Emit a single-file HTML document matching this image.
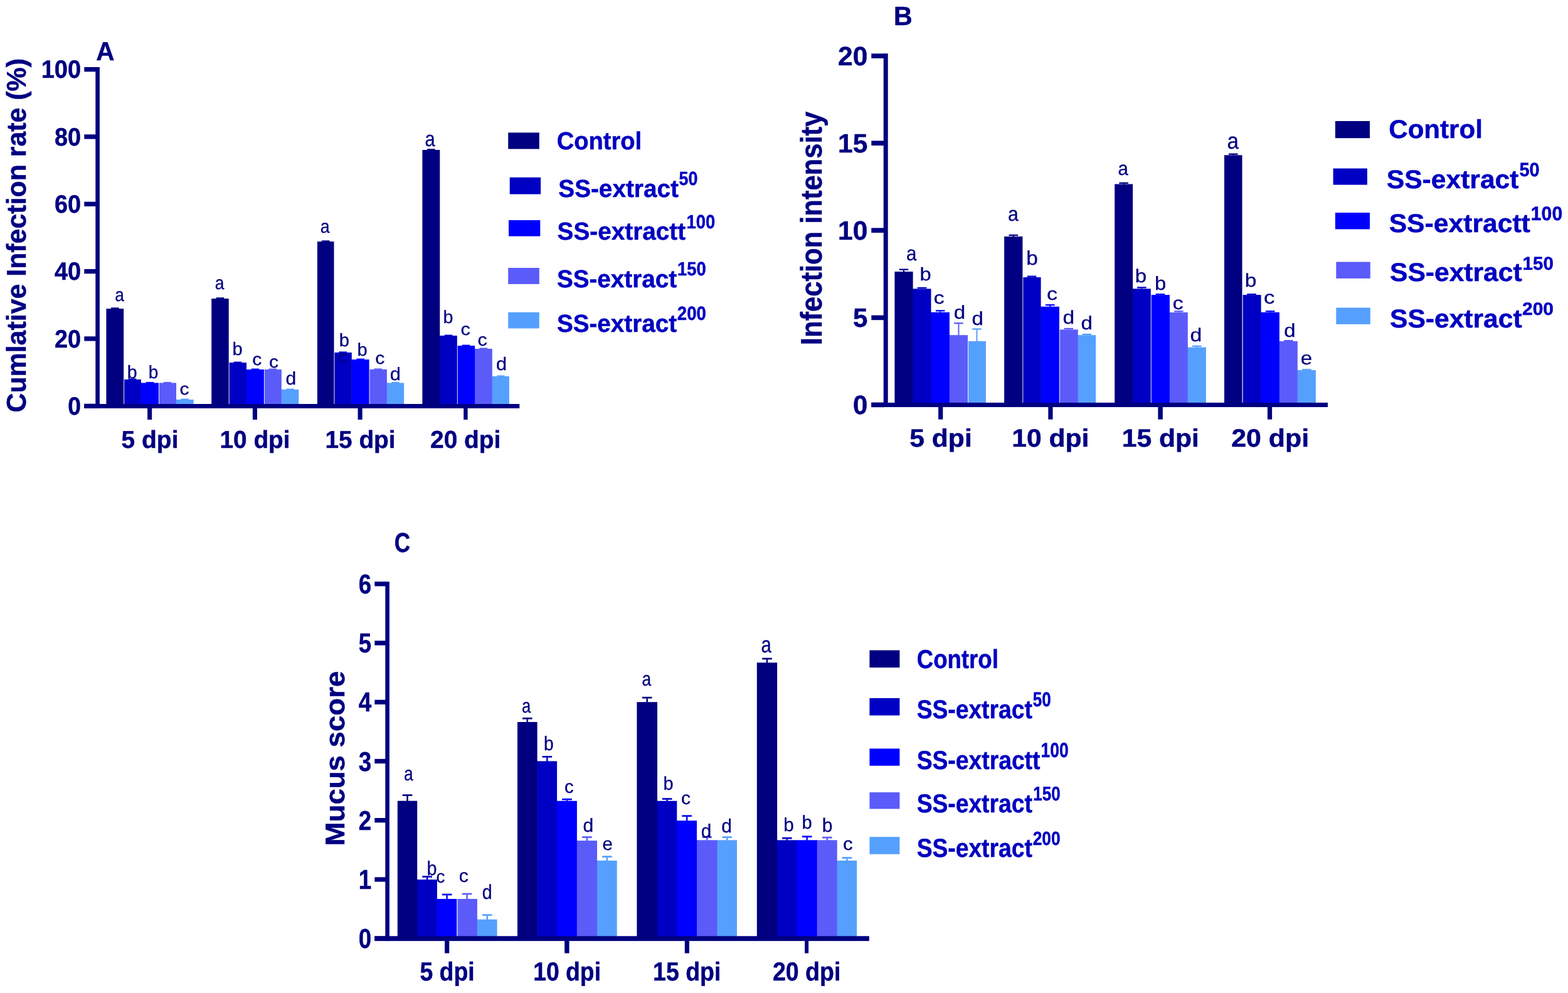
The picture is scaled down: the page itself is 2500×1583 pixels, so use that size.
<!DOCTYPE html>
<html lang="en"><head><meta charset="utf-8"><title>Figure</title>
<style>
html,body{margin:0;padding:0;background:#fff;}
svg{display:block;font-family:"Liberation Sans",Arial,Helvetica,sans-serif;text-rendering:geometricPrecision;}
</style></head>
<body>
<svg width="2500" height="1583" viewBox="0 0 2500 1583">
<rect x="0" y="0" width="2500" height="1583" fill="#fff"/>
<g aria-label="Chart A bars">
<rect x="177" y="490.3" width="12.6" height="2.2" fill="#000080"/>
<rect x="169.4" y="492.1" width="27.8" height="152.9" fill="#000080"/>
<rect x="224.4" y="610.4" width="1.4" height="34.6" fill="#0000C4"/>
<rect x="204.75" y="603.4" width="12.6" height="2.2" fill="#0000C4"/>
<rect x="198.1" y="604.9" width="26.8" height="40.1" fill="#0000C4"/>
<rect x="232.65" y="608.9" width="12.6" height="2.2" fill="#0000FF"/>
<rect x="224.9" y="610.4" width="28.1" height="34.6" fill="#0000FF"/>
<rect x="280.5" y="637" width="1.4" height="8" fill="#5B5BFA"/>
<rect x="260.7" y="608.9" width="12.6" height="2.2" fill="#5B5BFA"/>
<rect x="253.9" y="610.4" width="27.1" height="34.6" fill="#5B5BFA"/>
<rect x="288.5" y="635.5" width="12.6" height="2.2" fill="#55A0FF"/>
<rect x="281" y="637" width="27.6" height="8" fill="#55A0FF"/>
<rect x="344.65" y="474.2" width="12.6" height="2.2" fill="#000080"/>
<rect x="337.2" y="476" width="27.5" height="169" fill="#000080"/>
<rect x="392.5" y="589" width="1.4" height="56" fill="#0000C4"/>
<rect x="372.55" y="576.5" width="12.6" height="2.2" fill="#0000C4"/>
<rect x="365.6" y="578" width="27.4" height="67" fill="#0000C4"/>
<rect x="400.65" y="587.5" width="12.6" height="2.2" fill="#0000FF"/>
<rect x="393" y="589" width="27.9" height="56" fill="#0000FF"/>
<rect x="448.3" y="621" width="1.4" height="24" fill="#5B5BFA"/>
<rect x="428.55" y="587.5" width="12.6" height="2.2" fill="#5B5BFA"/>
<rect x="421.8" y="589" width="27" height="56" fill="#5B5BFA"/>
<rect x="456.25" y="619.5" width="12.6" height="2.2" fill="#55A0FF"/>
<rect x="448.8" y="621" width="27.5" height="24" fill="#55A0FF"/>
<rect x="512.9" y="383.3" width="12.6" height="2.2" fill="#000080"/>
<rect x="505.9" y="385" width="26.6" height="260" fill="#000080"/>
<rect x="560.3" y="573.1" width="1.4" height="71.9" fill="#0000C4"/>
<rect x="540.35" y="560.4" width="12.6" height="2.2" fill="#0000C4"/>
<rect x="533.4" y="561.9" width="27.4" height="83.1" fill="#0000C4"/>
<rect x="568.4" y="571.6" width="12.6" height="2.2" fill="#0000FF"/>
<rect x="560.8" y="573.1" width="27.8" height="71.9" fill="#0000FF"/>
<rect x="616.4" y="610.4" width="1.4" height="34.6" fill="#5B5BFA"/>
<rect x="596.45" y="587.4" width="12.6" height="2.2" fill="#5B5BFA"/>
<rect x="589.5" y="588.9" width="27.4" height="56.1" fill="#5B5BFA"/>
<rect x="624.25" y="608.9" width="12.6" height="2.2" fill="#55A0FF"/>
<rect x="616.9" y="610.4" width="27.3" height="34.6" fill="#55A0FF"/>
<rect x="700.8" y="535.1" width="1.4" height="109.9" fill="#000080"/>
<rect x="681.05" y="237.3" width="12.6" height="2.2" fill="#000080"/>
<rect x="673.4" y="239" width="27.9" height="406" fill="#000080"/>
<rect x="708.75" y="533.6" width="12.6" height="2.2" fill="#0000C4"/>
<rect x="701.3" y="535.1" width="27.5" height="109.9" fill="#0000C4"/>
<rect x="756.6" y="556" width="1.4" height="89" fill="#0000FF"/>
<rect x="736.65" y="549.6" width="12.6" height="2.2" fill="#0000FF"/>
<rect x="729.7" y="551.1" width="27.4" height="93.9" fill="#0000FF"/>
<rect x="784.3" y="599.9" width="1.4" height="45.1" fill="#5B5BFA"/>
<rect x="764.65" y="554.5" width="12.6" height="2.2" fill="#5B5BFA"/>
<rect x="757.1" y="556" width="27.7" height="89" fill="#5B5BFA"/>
<rect x="792.05" y="598.4" width="12.6" height="2.2" fill="#55A0FF"/>
<rect x="784.8" y="599.9" width="27.1" height="45.1" fill="#55A0FF"/>
</g>
<g aria-label="Chart A axes">
<rect x="152.3" y="107" width="6.6" height="543.9" fill="#000080"/>
<rect x="134.3" y="644" width="694" height="6.9" fill="#000080"/>
<rect x="134.3" y="107" width="19" height="7.3" fill="#000080"/>
<rect x="134.3" y="214.3" width="19" height="7.3" fill="#000080"/>
<rect x="134.3" y="321.65" width="19" height="7.3" fill="#000080"/>
<rect x="134.3" y="428.95" width="19" height="7.3" fill="#000080"/>
<rect x="134.3" y="536.3" width="19" height="7.3" fill="#000080"/>
<rect x="134.3" y="643.65" width="19" height="7.3" fill="#000080"/>
<rect x="235.1" y="649.9" width="7.1" height="19.1" fill="#000080"/>
<rect x="402.85" y="649.9" width="7.1" height="19.1" fill="#000080"/>
<rect x="570.55" y="649.9" width="7.1" height="19.1" fill="#000080"/>
<rect x="739.2" y="649.9" width="6.4" height="19.1" fill="#000080"/>
</g>
<g aria-label="Chart A labels">
<text transform="translate(65.68,124.2) scale(0.9486,1)" font-size="40.09" font-weight="bold" fill="#000080" stroke="#000080" stroke-width="0.5">100</text>
<text transform="translate(87.01,231.5) scale(0.9446,1)" font-size="40.09" font-weight="bold" fill="#000080" stroke="#000080" stroke-width="0.5">80</text>
<text transform="translate(87.01,338.85) scale(0.9445,1)" font-size="40.09" font-weight="bold" fill="#000080" stroke="#000080" stroke-width="0.5">60</text>
<text transform="translate(87,446.15) scale(0.9448,1)" font-size="40.09" font-weight="bold" fill="#000080" stroke="#000080" stroke-width="0.5">40</text>
<text transform="translate(87.01,553.5) scale(0.9445,1)" font-size="40.09" font-weight="bold" fill="#000080" stroke="#000080" stroke-width="0.5">20</text>
<text transform="translate(108.36,660.85) scale(0.9303,1)" font-size="40.09" font-weight="bold" fill="#000080" stroke="#000080" stroke-width="0.5">0</text>
<text transform="translate(193.58,713.55) scale(1.0001,1)" font-size="38.96" font-weight="bold" fill="#000080" stroke="#000080" stroke-width="0.5">5 dpi</text>
<text transform="translate(350.53,713.55) scale(0.9949,1)" font-size="38.96" font-weight="bold" fill="#000080" stroke="#000080" stroke-width="0.5">10 dpi</text>
<text transform="translate(518.42,713.55) scale(0.9968,1)" font-size="38.96" font-weight="bold" fill="#000080" stroke="#000080" stroke-width="0.5">15 dpi</text>
<text transform="translate(685.99,713.55) scale(0.9989,1)" font-size="38.96" font-weight="bold" fill="#000080" stroke="#000080" stroke-width="0.5">20 dpi</text>
<text transform="translate(153.34,95.75) scale(0.9689,1)" font-size="41.75" font-weight="bold" fill="#000080" stroke="#000080" stroke-width="0.5">A</text>
<text transform="translate(41.46,657.57) rotate(-90) scale(0.9898,1)" font-size="43.32" font-weight="bold" fill="#000080" stroke="#000080" stroke-width="0.5">Cumlative Infection rate (%)</text>
</g>
<g aria-label="Chart A legend">
<rect x="810.2" y="211.4" width="49.6" height="26.1" fill="#000080"/>
<rect x="812.7" y="282.8" width="49.4" height="26.8" fill="#0000C4"/>
<rect x="811" y="351" width="50.3" height="25.6" fill="#0000FF"/>
<rect x="810.2" y="427" width="49.6" height="25.9" fill="#5B5BFA"/>
<rect x="810.2" y="497.9" width="49.6" height="25.6" fill="#55A0FF"/>
<text transform="translate(887.73,237.75) scale(0.9686,1)" font-size="39.32" font-weight="bold" fill="#0000C0" stroke="#0000C0" stroke-width="0.5">Control</text>
<text transform="translate(890.29,313.75) scale(0.9863,1)" font-size="39.29" font-weight="bold" fill="#0000C0" stroke="#0000C0" stroke-width="0.5">SS-extract</text>
<text transform="translate(1082.48,295.24) scale(0.8747,1)" font-size="30.67" font-weight="bold" fill="#0000C0" stroke="#0000C0" stroke-width="0.5">50</text>
<text transform="translate(888.59,381.75) scale(0.9864,1)" font-size="39.29" font-weight="bold" fill="#0000C0" stroke="#0000C0" stroke-width="0.5">SS-extractt</text>
<text transform="translate(1094.53,363.74) scale(0.8958,1)" font-size="30.67" font-weight="bold" fill="#0000C0" stroke="#0000C0" stroke-width="0.5">100</text>
<text transform="translate(887.89,457.75) scale(0.9843,1)" font-size="39.29" font-weight="bold" fill="#0000C0" stroke="#0000C0" stroke-width="0.5">SS-extract</text>
<text transform="translate(1080.03,439.24) scale(0.8958,1)" font-size="30.67" font-weight="bold" fill="#0000C0" stroke="#0000C0" stroke-width="0.5">150</text>
<text transform="translate(887.89,528.75) scale(0.9843,1)" font-size="39.29" font-weight="bold" fill="#0000C0" stroke="#0000C0" stroke-width="0.5">SS-extract</text>
<text transform="translate(1079.78,510.24) scale(0.9008,1)" font-size="30.67" font-weight="bold" fill="#0000C0" stroke="#0000C0" stroke-width="0.5">200</text>
</g>
<g aria-label="Chart B bars">
<rect x="1455.1" y="460.4" width="1.4" height="182.5" fill="#000080"/>
<rect x="1433.7" y="428.5" width="14.6" height="2.3" fill="#000080"/>
<rect x="1440" y="430.6" width="2" height="2.9" fill="#000080"/>
<rect x="1426.4" y="433" width="29.2" height="209.9" fill="#000080"/>
<rect x="1484" y="497.8" width="1.4" height="145.1" fill="#0000C4"/>
<rect x="1462.75" y="457.8" width="14.6" height="2.3" fill="#0000C4"/>
<rect x="1455.6" y="460.4" width="28.9" height="182.5" fill="#0000C4"/>
<rect x="1513.4" y="534.2" width="1.4" height="108.7" fill="#0000FF"/>
<rect x="1491.9" y="494.2" width="14.6" height="2.3" fill="#0000FF"/>
<rect x="1498.2" y="496.3" width="2" height="2" fill="#0000FF"/>
<rect x="1484.5" y="497.8" width="29.4" height="145.1" fill="#0000FF"/>
<rect x="1521.15" y="514.1" width="14.6" height="2.3" fill="#5B5BFA"/>
<rect x="1527.45" y="516.2" width="2" height="18.5" fill="#5B5BFA"/>
<rect x="1513.9" y="534.2" width="29.1" height="108.7" fill="#5B5BFA"/>
<rect x="1550.15" y="523.4" width="14.6" height="2.3" fill="#55A0FF"/>
<rect x="1556.45" y="525.5" width="2" height="18.9" fill="#55A0FF"/>
<rect x="1543.9" y="543.9" width="28" height="99" fill="#55A0FF"/>
<rect x="1608.45" y="373.8" width="14.6" height="2.3" fill="#000080"/>
<rect x="1614.75" y="375.9" width="2" height="1.6" fill="#000080"/>
<rect x="1601.1" y="377" width="29.3" height="265.9" fill="#000080"/>
<rect x="1659.1" y="488.8" width="1.4" height="154.1" fill="#0000C4"/>
<rect x="1637.7" y="439.5" width="14.6" height="2.3" fill="#0000C4"/>
<rect x="1631.3" y="442" width="28.3" height="200.9" fill="#0000C4"/>
<rect x="1666.95" y="485" width="14.6" height="2.3" fill="#0000FF"/>
<rect x="1673.25" y="487.1" width="2" height="2.2" fill="#0000FF"/>
<rect x="1659.6" y="488.8" width="29.3" height="154.1" fill="#0000FF"/>
<rect x="1718.2" y="534.2" width="1.4" height="108.7" fill="#5B5BFA"/>
<rect x="1696.5" y="522.8" width="14.6" height="2.3" fill="#5B5BFA"/>
<rect x="1702.8" y="524.9" width="2" height="1" fill="#5B5BFA"/>
<rect x="1689.8" y="525.4" width="28.9" height="117.5" fill="#5B5BFA"/>
<rect x="1725.6" y="531.9" width="14.6" height="2.3" fill="#55A0FF"/>
<rect x="1718.7" y="534.2" width="28.4" height="108.7" fill="#55A0FF"/>
<rect x="1805.6" y="460.3" width="1.4" height="182.6" fill="#000080"/>
<rect x="1784.35" y="290.6" width="14.6" height="2.3" fill="#000080"/>
<rect x="1790.65" y="292.7" width="2" height="1.3" fill="#000080"/>
<rect x="1777.2" y="293.5" width="28.9" height="349.4" fill="#000080"/>
<rect x="1813.15" y="457.2" width="14.6" height="2.3" fill="#0000C4"/>
<rect x="1819.45" y="459.3" width="2" height="1.5" fill="#0000C4"/>
<rect x="1806.1" y="460.3" width="28.7" height="182.6" fill="#0000C4"/>
<rect x="1864.4" y="498" width="1.4" height="144.9" fill="#0000FF"/>
<rect x="1842.55" y="468" width="14.6" height="2.3" fill="#0000FF"/>
<rect x="1835.7" y="470.1" width="29.2" height="172.8" fill="#0000FF"/>
<rect x="1893.3" y="553.7" width="1.4" height="89.2" fill="#5B5BFA"/>
<rect x="1872.05" y="495.1" width="14.6" height="2.3" fill="#5B5BFA"/>
<rect x="1878.35" y="497.2" width="2" height="1.3" fill="#5B5BFA"/>
<rect x="1864.9" y="498" width="28.9" height="144.9" fill="#5B5BFA"/>
<rect x="1901.05" y="550.7" width="14.6" height="2.3" fill="#55A0FF"/>
<rect x="1907.35" y="552.8" width="2" height="1.4" fill="#55A0FF"/>
<rect x="1893.8" y="553.7" width="29.1" height="89.2" fill="#55A0FF"/>
<rect x="1958.95" y="244.5" width="14.6" height="2.3" fill="#000080"/>
<rect x="1965.25" y="246.6" width="2" height="1.2" fill="#000080"/>
<rect x="1952" y="247.3" width="28.5" height="395.6" fill="#000080"/>
<rect x="2010.1" y="497.8" width="1.4" height="145.1" fill="#0000C4"/>
<rect x="1988.25" y="468" width="14.6" height="2.3" fill="#0000C4"/>
<rect x="1981.6" y="470.1" width="29" height="172.8" fill="#0000C4"/>
<rect x="2039.4" y="544" width="1.4" height="98.9" fill="#0000FF"/>
<rect x="2017.95" y="495.1" width="14.6" height="2.3" fill="#0000FF"/>
<rect x="2024.25" y="497.2" width="2" height="1.1" fill="#0000FF"/>
<rect x="2010.6" y="497.8" width="29.3" height="145.1" fill="#0000FF"/>
<rect x="2068.3" y="590.1" width="1.4" height="52.8" fill="#5B5BFA"/>
<rect x="2047.05" y="542" width="14.6" height="2.3" fill="#5B5BFA"/>
<rect x="2039.9" y="544" width="28.9" height="98.9" fill="#5B5BFA"/>
<rect x="2076.05" y="588.1" width="14.6" height="2.3" fill="#55A0FF"/>
<rect x="2068.8" y="590.1" width="29.1" height="52.8" fill="#55A0FF"/>
</g>
<g aria-label="Chart B axes">
<rect x="1408.7" y="85.3" width="7" height="563.7" fill="#000080"/>
<rect x="1389.3" y="641.9" width="727.7" height="7.1" fill="#000080"/>
<rect x="1389.3" y="85.4" width="20.4" height="7.6" fill="#000080"/>
<rect x="1389.3" y="224.4" width="20.4" height="7.6" fill="#000080"/>
<rect x="1389.3" y="363.4" width="20.4" height="7.6" fill="#000080"/>
<rect x="1389.3" y="502.6" width="20.4" height="7.6" fill="#000080"/>
<rect x="1389.3" y="641.6" width="20.4" height="7.6" fill="#000080"/>
<rect x="1496.1" y="648" width="7.2" height="20.6" fill="#000080"/>
<rect x="1671.3" y="648" width="7.2" height="20.6" fill="#000080"/>
<rect x="1846.35" y="648" width="7.5" height="20.6" fill="#000080"/>
<rect x="2020.9" y="648" width="7.2" height="20.6" fill="#000080"/>
</g>
<g aria-label="Chart B labels">
<text transform="translate(1335.99,104.05) scale(1.0053,1)" font-size="42.29" font-weight="bold" fill="#000080" stroke="#000080" stroke-width="0.5">20</text>
<text transform="translate(1336,243.05) scale(1.0054,1)" font-size="42.28" font-weight="bold" fill="#000080" stroke="#000080" stroke-width="0.5">15</text>
<text transform="translate(1336,382.05) scale(1.0050,1)" font-size="42.29" font-weight="bold" fill="#000080" stroke="#000080" stroke-width="0.5">10</text>
<text transform="translate(1359.92,521.25) scale(0.9931,1)" font-size="42.28" font-weight="bold" fill="#000080" stroke="#000080" stroke-width="0.5">5</text>
<text transform="translate(1359.93,660.25) scale(0.9918,1)" font-size="42.29" font-weight="bold" fill="#000080" stroke="#000080" stroke-width="0.5">0</text>
<text transform="translate(1450.26,711.65) scale(1.0644,1)" font-size="40.06" font-weight="bold" fill="#000080" stroke="#000080" stroke-width="0.5">5 dpi</text>
<text transform="translate(1613.18,711.65) scale(1.0654,1)" font-size="40.06" font-weight="bold" fill="#000080" stroke="#000080" stroke-width="0.5">10 dpi</text>
<text transform="translate(1788.68,711.65) scale(1.0645,1)" font-size="40.06" font-weight="bold" fill="#000080" stroke="#000080" stroke-width="0.5">15 dpi</text>
<text transform="translate(1963.25,711.65) scale(1.0701,1)" font-size="40.06" font-weight="bold" fill="#000080" stroke="#000080" stroke-width="0.5">20 dpi</text>
<text transform="translate(1424.98,39.85) scale(0.9716,1)" font-size="42.18" font-weight="bold" fill="#000080" stroke="#000080" stroke-width="0.5">B</text>
<text transform="translate(1309.97,550.19) rotate(-90) scale(0.9141,1)" font-size="47.61" font-weight="bold" fill="#000080" stroke="#000080" stroke-width="0.5">Infection intensity</text>
</g>
<g aria-label="Chart B legend">
<rect x="2128.9" y="193" width="55.1" height="27.2" fill="#000080"/>
<rect x="2125.6" y="268.5" width="54.3" height="26.1" fill="#0000C4"/>
<rect x="2128.9" y="339" width="55.1" height="26.4" fill="#0000FF"/>
<rect x="2130.3" y="417.5" width="54.5" height="26.4" fill="#5B5BFA"/>
<rect x="2130.3" y="490.5" width="54.5" height="26.4" fill="#55A0FF"/>
<text transform="translate(2214.27,220.25) scale(1.0186,1)" font-size="41.32" font-weight="bold" fill="#0000C0" stroke="#0000C0" stroke-width="0.5">Control</text>
<text transform="translate(2210.77,299.75) scale(1.0319,1)" font-size="41.29" font-weight="bold" fill="#0000C0" stroke="#0000C0" stroke-width="0.5">SS-extract</text>
<text transform="translate(2422.41,280.74) scale(0.9350,1)" font-size="30.95" font-weight="bold" fill="#0000C0" stroke="#0000C0" stroke-width="0.5">50</text>
<text transform="translate(2214.67,370.45) scale(1.0330,1)" font-size="41.29" font-weight="bold" fill="#0000C0" stroke="#0000C0" stroke-width="0.5">SS-extractt</text>
<text transform="translate(2440.76,350.94) scale(0.9720,1)" font-size="31.1" font-weight="bold" fill="#0000C0" stroke="#0000C0" stroke-width="0.5">100</text>
<text transform="translate(2216.07,448.35) scale(1.0309,1)" font-size="41.29" font-weight="bold" fill="#0000C0" stroke="#0000C0" stroke-width="0.5">SS-extract</text>
<text transform="translate(2427.6,429.85) scale(1.0015,1)" font-size="29.54" font-weight="bold" fill="#0000C0" stroke="#0000C0" stroke-width="0.5">150</text>
<text transform="translate(2216.07,521.95) scale(1.0309,1)" font-size="41.29" font-weight="bold" fill="#0000C0" stroke="#0000C0" stroke-width="0.5">SS-extract</text>
<text transform="translate(2427,502.07) scale(1.0543,1)" font-size="28.41" font-weight="bold" fill="#0000C0" stroke="#0000C0" stroke-width="0.5">200</text>
</g>
<g aria-label="Chart C bars">
<rect x="664.7" y="1402.2" width="1.4" height="91.1" fill="#000080"/>
<rect x="641.7" y="1266.3" width="15.6" height="2.7" fill="#000080"/>
<rect x="648.25" y="1268.8" width="2.5" height="8.4" fill="#000080"/>
<rect x="633.8" y="1276.7" width="31.4" height="216.6" fill="#000080"/>
<rect x="696.4" y="1433" width="1.4" height="60.3" fill="#0000C4"/>
<rect x="673.25" y="1396.2" width="15.6" height="2.7" fill="#0000C4"/>
<rect x="679.8" y="1398.7" width="2.5" height="4" fill="#0000C4"/>
<rect x="665.2" y="1402.2" width="31.7" height="91.1" fill="#0000C4"/>
<rect x="704.8" y="1424.7" width="15.6" height="2.7" fill="#0000FF"/>
<rect x="711.35" y="1427.2" width="2.5" height="6.3" fill="#0000FF"/>
<rect x="696.9" y="1433" width="31.4" height="60.3" fill="#0000FF"/>
<rect x="760.4" y="1465.7" width="1.4" height="27.6" fill="#5B5BFA"/>
<rect x="736.8" y="1423.7" width="15.6" height="2.7" fill="#5B5BFA"/>
<rect x="743.35" y="1426.2" width="2.5" height="7.3" fill="#5B5BFA"/>
<rect x="729.5" y="1433" width="31.4" height="60.3" fill="#5B5BFA"/>
<rect x="768.95" y="1457.3" width="15.6" height="2.7" fill="#55A0FF"/>
<rect x="775.5" y="1459.8" width="2.5" height="6.4" fill="#55A0FF"/>
<rect x="760.9" y="1465.7" width="31.7" height="27.6" fill="#55A0FF"/>
<rect x="856.1" y="1213.4" width="1.4" height="279.9" fill="#000080"/>
<rect x="833" y="1143.9" width="15.6" height="2.7" fill="#000080"/>
<rect x="839.55" y="1146.4" width="2.5" height="5.1" fill="#000080"/>
<rect x="825" y="1151" width="31.6" height="342.3" fill="#000080"/>
<rect x="887.6" y="1276.8" width="1.4" height="216.5" fill="#0000C4"/>
<rect x="864.55" y="1205" width="15.6" height="2.7" fill="#0000C4"/>
<rect x="871.1" y="1207.5" width="2.5" height="6.4" fill="#0000C4"/>
<rect x="856.6" y="1213.4" width="31.5" height="279.9" fill="#0000C4"/>
<rect x="919.4" y="1340.1" width="1.4" height="153.2" fill="#0000FF"/>
<rect x="896.2" y="1272.9" width="15.6" height="2.7" fill="#0000FF"/>
<rect x="902.75" y="1275.4" width="2.5" height="1.9" fill="#0000FF"/>
<rect x="888.1" y="1276.8" width="31.8" height="216.5" fill="#0000FF"/>
<rect x="951.5" y="1371.9" width="1.4" height="121.4" fill="#5B5BFA"/>
<rect x="928.15" y="1333.2" width="15.6" height="2.7" fill="#5B5BFA"/>
<rect x="934.7" y="1335.7" width="2.5" height="4.9" fill="#5B5BFA"/>
<rect x="919.9" y="1340.1" width="32.1" height="153.2" fill="#5B5BFA"/>
<rect x="960.05" y="1364.3" width="15.6" height="2.7" fill="#55A0FF"/>
<rect x="966.6" y="1366.8" width="2.5" height="5.6" fill="#55A0FF"/>
<rect x="952" y="1371.9" width="31.7" height="121.4" fill="#55A0FF"/>
<rect x="1047.5" y="1276.8" width="1.4" height="216.5" fill="#000080"/>
<rect x="1023.9" y="1110.8" width="15.6" height="2.7" fill="#000080"/>
<rect x="1030.45" y="1113.3" width="2.5" height="6.4" fill="#000080"/>
<rect x="1015.4" y="1119.2" width="32.6" height="374.1" fill="#000080"/>
<rect x="1078.8" y="1308.2" width="1.4" height="185.1" fill="#0000C4"/>
<rect x="1055.85" y="1272.2" width="15.6" height="2.7" fill="#0000C4"/>
<rect x="1062.4" y="1274.7" width="2.5" height="2.6" fill="#0000C4"/>
<rect x="1048" y="1276.8" width="31.3" height="216.5" fill="#0000C4"/>
<rect x="1110.5" y="1339.3" width="1.4" height="154" fill="#0000FF"/>
<rect x="1087.35" y="1299.4" width="15.6" height="2.7" fill="#0000FF"/>
<rect x="1093.9" y="1301.9" width="2.5" height="6.8" fill="#0000FF"/>
<rect x="1079.3" y="1308.2" width="31.7" height="185.1" fill="#0000FF"/>
<rect x="1143" y="1339.3" width="1.4" height="154" fill="#5B5BFA"/>
<rect x="1119.45" y="1333.2" width="15.6" height="2.7" fill="#5B5BFA"/>
<rect x="1126" y="1335.7" width="2.5" height="4.1" fill="#5B5BFA"/>
<rect x="1111" y="1339.3" width="32.5" height="154" fill="#5B5BFA"/>
<rect x="1151.45" y="1333.2" width="15.6" height="2.7" fill="#55A0FF"/>
<rect x="1158" y="1335.7" width="2.5" height="4.1" fill="#55A0FF"/>
<rect x="1143.5" y="1339.3" width="31.5" height="154" fill="#55A0FF"/>
<rect x="1238.6" y="1339.3" width="1.4" height="154" fill="#000080"/>
<rect x="1215.15" y="1048.7" width="15.6" height="2.7" fill="#000080"/>
<rect x="1221.7" y="1051.2" width="2.5" height="5.6" fill="#000080"/>
<rect x="1206.8" y="1056.3" width="32.3" height="437" fill="#000080"/>
<rect x="1270" y="1339.3" width="1.4" height="154" fill="#0000C4"/>
<rect x="1247" y="1334.8" width="15.6" height="2.7" fill="#0000C4"/>
<rect x="1253.55" y="1337.3" width="2.5" height="2.5" fill="#0000C4"/>
<rect x="1239.1" y="1339.3" width="31.4" height="154" fill="#0000C4"/>
<rect x="1302.3" y="1339.3" width="1.4" height="154" fill="#0000FF"/>
<rect x="1278.85" y="1332.3" width="15.6" height="2.7" fill="#0000FF"/>
<rect x="1285.4" y="1334.8" width="2.5" height="5" fill="#0000FF"/>
<rect x="1270.5" y="1339.3" width="32.3" height="154" fill="#0000FF"/>
<rect x="1334.2" y="1371.9" width="1.4" height="121.4" fill="#5B5BFA"/>
<rect x="1310.95" y="1333.8" width="15.6" height="2.7" fill="#5B5BFA"/>
<rect x="1317.5" y="1336.3" width="2.5" height="3.5" fill="#5B5BFA"/>
<rect x="1302.8" y="1339.3" width="31.9" height="154" fill="#5B5BFA"/>
<rect x="1342.65" y="1366.1" width="15.6" height="2.7" fill="#55A0FF"/>
<rect x="1349.2" y="1368.6" width="2.5" height="3.8" fill="#55A0FF"/>
<rect x="1334.7" y="1371.9" width="31.5" height="121.4" fill="#55A0FF"/>
</g>
<g aria-label="Chart C axes">
<rect x="614.3" y="927.3" width="6.6" height="572.8" fill="#000080"/>
<rect x="597.3" y="1492.3" width="788.5" height="7.8" fill="#000080"/>
<rect x="597.3" y="927.2" width="18" height="7.3" fill="#000080"/>
<rect x="597.3" y="1021.42" width="18" height="7.3" fill="#000080"/>
<rect x="597.3" y="1115.65" width="18" height="7.3" fill="#000080"/>
<rect x="597.3" y="1209.85" width="18" height="7.3" fill="#000080"/>
<rect x="597.3" y="1304.05" width="18" height="7.3" fill="#000080"/>
<rect x="597.3" y="1398.35" width="18" height="7.3" fill="#000080"/>
<rect x="597.3" y="1492.55" width="18" height="7.3" fill="#000080"/>
<rect x="709.05" y="1499.1" width="7.2" height="20.5" fill="#000080"/>
<rect x="900.15" y="1499.1" width="7.4" height="20.5" fill="#000080"/>
<rect x="1091.8" y="1499.1" width="7.1" height="20.5" fill="#000080"/>
<rect x="1283.1" y="1499.1" width="6" height="20.5" fill="#000080"/>
</g>
<g aria-label="Chart C labels">
<text transform="translate(571.77,946) scale(0.8451,1)" font-size="43.49" font-weight="bold" fill="#000080" stroke="#000080" stroke-width="0.5">6</text>
<text transform="translate(571.76,1040.22) scale(0.8459,1)" font-size="43.48" font-weight="bold" fill="#000080" stroke="#000080" stroke-width="0.5">5</text>
<text transform="translate(571.75,1134.45) scale(0.8478,1)" font-size="43.47" font-weight="bold" fill="#000080" stroke="#000080" stroke-width="0.5">4</text>
<text transform="translate(571.75,1228.65) scale(0.8458,1)" font-size="43.49" font-weight="bold" fill="#000080" stroke="#000080" stroke-width="0.5">3</text>
<text transform="translate(571.77,1322.85) scale(0.8451,1)" font-size="43.48" font-weight="bold" fill="#000080" stroke="#000080" stroke-width="0.5">2</text>
<text transform="translate(571.8,1417.15) scale(0.8446,1)" font-size="43.47" font-weight="bold" fill="#000080" stroke="#000080" stroke-width="0.5">1</text>
<text transform="translate(571.77,1511.35) scale(0.8447,1)" font-size="43.49" font-weight="bold" fill="#000080" stroke="#000080" stroke-width="0.5">0</text>
<text transform="translate(669.38,1563.35) scale(0.9014,1)" font-size="41.56" font-weight="bold" fill="#000080" stroke="#000080" stroke-width="0.5">5 dpi</text>
<text transform="translate(850.22,1563.35) scale(0.8978,1)" font-size="41.56" font-weight="bold" fill="#000080" stroke="#000080" stroke-width="0.5">10 dpi</text>
<text transform="translate(1041.11,1563.35) scale(0.9022,1)" font-size="41.56" font-weight="bold" fill="#000080" stroke="#000080" stroke-width="0.5">15 dpi</text>
<text transform="translate(1231.94,1563.35) scale(0.9028,1)" font-size="41.56" font-weight="bold" fill="#000080" stroke="#000080" stroke-width="0.5">20 dpi</text>
<text transform="translate(628.65,880.21) scale(0.8014,1)" font-size="43.82" font-weight="bold" fill="#000080" stroke="#000080" stroke-width="0.5">C</text>
<text transform="translate(548.52,1348.43) rotate(-90) scale(1.0529,1)" font-size="43.3" font-weight="bold" fill="#000080" stroke="#000080" stroke-width="0.5">Mucus score</text>
</g>
<g aria-label="Chart C legend">
<rect x="1386.4" y="1036.6" width="48" height="27.6" fill="#000080"/>
<rect x="1386.4" y="1112.9" width="48" height="27.6" fill="#0000C4"/>
<rect x="1386.4" y="1193.4" width="48" height="27.3" fill="#0000FF"/>
<rect x="1386.4" y="1263.1" width="48" height="26.4" fill="#5B5BFA"/>
<rect x="1386.4" y="1334.2" width="48" height="27.5" fill="#55A0FF"/>
<text transform="translate(1461.68,1064.65) scale(0.8802,1)" font-size="41.62" font-weight="bold" fill="#0000C0" stroke="#0000C0" stroke-width="0.5">Control</text>
<text transform="translate(1461.63,1144.55) scale(0.8955,1)" font-size="41.59" font-weight="bold" fill="#0000C0" stroke="#0000C0" stroke-width="0.5">SS-extract</text>
<text transform="translate(1646.7,1126.13) scale(0.8051,1)" font-size="32.37" font-weight="bold" fill="#0000C0" stroke="#0000C0" stroke-width="0.5">50</text>
<text transform="translate(1461.63,1225.85) scale(0.8965,1)" font-size="41.59" font-weight="bold" fill="#0000C0" stroke="#0000C0" stroke-width="0.5">SS-extractt</text>
<text transform="translate(1659.5,1206.52) scale(0.8067,1)" font-size="32.79" font-weight="bold" fill="#0000C0" stroke="#0000C0" stroke-width="0.5">100</text>
<text transform="translate(1461.63,1295.25) scale(0.8955,1)" font-size="41.59" font-weight="bold" fill="#0000C0" stroke="#0000C0" stroke-width="0.5">SS-extract</text>
<text transform="translate(1647.33,1275.73) scale(0.8194,1)" font-size="31.66" font-weight="bold" fill="#0000C0" stroke="#0000C0" stroke-width="0.5">150</text>
<text transform="translate(1461.63,1366.35) scale(0.8955,1)" font-size="41.59" font-weight="bold" fill="#0000C0" stroke="#0000C0" stroke-width="0.5">SS-extract</text>
<text transform="translate(1646.63,1347.14) scale(0.8639,1)" font-size="30.53" font-weight="bold" fill="#0000C0" stroke="#0000C0" stroke-width="0.5">200</text>
</g>
<g aria-label="significance letters">
<text transform="translate(183.13,480.45) scale(0.8902,1)" font-size="29.59" fill="#000080" stroke="#000080" stroke-width="0.3">a</text>
<text transform="translate(202.8,602.96) scale(0.9815,1)" font-size="28.98" fill="#000080" stroke="#000080" stroke-width="0.3">b</text>
<text transform="translate(236.83,603.36) scale(0.9708,1)" font-size="28.84" fill="#000080" stroke="#000080" stroke-width="0.3">b</text>
<text transform="translate(286.57,628.68) scale(1.1173,1)" font-size="26.85" fill="#000080" stroke="#000080" stroke-width="0.3">c</text>
<text transform="translate(342.83,461.45) scale(0.8902,1)" font-size="29.59" fill="#000080" stroke="#000080" stroke-width="0.3">a</text>
<text transform="translate(370.46,565.86) scale(1.0045,1)" font-size="28.98" fill="#000080" stroke="#000080" stroke-width="0.3">b</text>
<text transform="translate(402.27,582.48) scale(1.0950,1)" font-size="27.4" fill="#000080" stroke="#000080" stroke-width="0.3">c</text>
<text transform="translate(428.88,585.58) scale(1.0950,1)" font-size="27.4" fill="#000080" stroke="#000080" stroke-width="0.3">c</text>
<text transform="translate(455.48,612.56) scale(1.0401,1)" font-size="28.84" fill="#000080" stroke="#000080" stroke-width="0.3">d</text>
<text transform="translate(510.81,370.95) scale(0.9034,1)" font-size="29.59" fill="#000080" stroke="#000080" stroke-width="0.3">a</text>
<text transform="translate(540.66,551.76) scale(1.0093,1)" font-size="28.84" fill="#000080" stroke="#000080" stroke-width="0.3">b</text>
<text transform="translate(539.08,577.98) scale(1.1023,1)" font-size="27.21" fill="#000080" stroke="#000080" stroke-width="0.3">c</text>
<text transform="translate(569.46,566.97) scale(1.0287,1)" font-size="28.3" fill="#000080" stroke="#000080" stroke-width="0.3">b</text>
<text transform="translate(598.17,579.78) scale(1.1109,1)" font-size="27.21" fill="#000080" stroke="#000080" stroke-width="0.3">c</text>
<text transform="translate(621.64,605.56) scale(1.0709,1)" font-size="28.84" fill="#000080" stroke="#000080" stroke-width="0.3">d</text>
<text transform="translate(677.51,233.01) scale(0.8512,1)" font-size="34.16" fill="#000080" stroke="#000080" stroke-width="0.3">a</text>
<text transform="translate(706.59,515.16) scale(1.0033,1)" font-size="28.57" fill="#000080" stroke="#000080" stroke-width="0.3">b</text>
<text transform="translate(734.45,533.98) scale(1.1205,1)" font-size="27.4" fill="#000080" stroke="#000080" stroke-width="0.3">c</text>
<text transform="translate(761.56,550.77) scale(1.0902,1)" font-size="27.95" fill="#000080" stroke="#000080" stroke-width="0.3">c</text>
<text transform="translate(790.95,590.46) scale(1.0533,1)" font-size="29.12" fill="#000080" stroke="#000080" stroke-width="0.3">d</text>
<text transform="translate(1445.1,415.42) scale(0.9012,1)" font-size="32.69" fill="#000080" stroke="#000080" stroke-width="0.3">a</text>
<text transform="translate(1466.53,447.26) scale(1.1220,1)" font-size="29.12" fill="#000080" stroke="#000080" stroke-width="0.3">b</text>
<text transform="translate(1488.4,484.17) scale(1.2314,1)" font-size="27.76" fill="#000080" stroke="#000080" stroke-width="0.3">c</text>
<text transform="translate(1520.84,508.35) scale(1.1113,1)" font-size="29.8" fill="#000080" stroke="#000080" stroke-width="0.3">d</text>
<text transform="translate(1549.54,517.75) scale(1.1012,1)" font-size="30.07" fill="#000080" stroke="#000080" stroke-width="0.3">d</text>
<text transform="translate(1607.06,351.73) scale(0.9355,1)" font-size="32.33" fill="#000080" stroke="#000080" stroke-width="0.3">a</text>
<text transform="translate(1636.18,422.44) scale(1.0652,1)" font-size="31.29" fill="#000080" stroke="#000080" stroke-width="0.3">b</text>
<text transform="translate(1669.11,477.97) scale(1.2071,1)" font-size="28.13" fill="#000080" stroke="#000080" stroke-width="0.3">c</text>
<text transform="translate(1694.42,515.85) scale(1.1262,1)" font-size="29.8" fill="#000080" stroke="#000080" stroke-width="0.3">d</text>
<text transform="translate(1723.54,524.55) scale(1.1164,1)" font-size="29.66" fill="#000080" stroke="#000080" stroke-width="0.3">d</text>
<text transform="translate(1782.5,278.84) scale(0.9602,1)" font-size="30.68" fill="#000080" stroke="#000080" stroke-width="0.3">a</text>
<text transform="translate(1809.81,449.95) scale(1.1038,1)" font-size="29.8" fill="#000080" stroke="#000080" stroke-width="0.3">b</text>
<text transform="translate(1840.91,462.15) scale(1.0840,1)" font-size="30.34" fill="#000080" stroke="#000080" stroke-width="0.3">b</text>
<text transform="translate(1869.49,492.66) scale(1.1927,1)" font-size="28.86" fill="#000080" stroke="#000080" stroke-width="0.3">c</text>
<text transform="translate(1897.61,543.75) scale(1.1441,1)" font-size="29.52" fill="#000080" stroke="#000080" stroke-width="0.3">d</text>
<text transform="translate(1956.44,237.09) scale(0.9126,1)" font-size="36.35" fill="#000080" stroke="#000080" stroke-width="0.3">a</text>
<text transform="translate(1984.77,457.45) scale(1.1262,1)" font-size="29.8" fill="#000080" stroke="#000080" stroke-width="0.3">b</text>
<text transform="translate(2014.98,484.36) scale(1.1857,1)" font-size="29.22" fill="#000080" stroke="#000080" stroke-width="0.3">c</text>
<text transform="translate(2047.15,536.55) scale(1.0988,1)" font-size="29.93" fill="#000080" stroke="#000080" stroke-width="0.3">d</text>
<text transform="translate(2073.65,581.15) scale(1.1010,1)" font-size="29.95" fill="#000080" stroke="#000080" stroke-width="0.3">e</text>
<text transform="translate(644.03,1243.83) scale(0.8288,1)" font-size="31.78" fill="#000080" stroke="#000080" stroke-width="0.3">a</text>
<text transform="translate(680.39,1395.43) scale(0.9043,1)" font-size="31.7" fill="#000080" stroke="#000080" stroke-width="0.3">b</text>
<text transform="translate(695.56,1407.47) scale(0.9857,1)" font-size="28.31" fill="#000080" stroke="#000080" stroke-width="0.3">c</text>
<text transform="translate(731.67,1405.96) scale(1.0345,1)" font-size="29.22" fill="#000080" stroke="#000080" stroke-width="0.3">c</text>
<text transform="translate(768.73,1432.63) scale(0.8928,1)" font-size="32.11" fill="#000080" stroke="#000080" stroke-width="0.3">d</text>
<text transform="translate(831.96,1135.83) scale(0.8043,1)" font-size="31.78" fill="#000080" stroke="#000080" stroke-width="0.3">a</text>
<text transform="translate(867.12,1196.13) scale(0.8903,1)" font-size="31.7" fill="#000080" stroke="#000080" stroke-width="0.3">b</text>
<text transform="translate(899.91,1264.06) scale(0.9947,1)" font-size="29.22" fill="#000080" stroke="#000080" stroke-width="0.3">c</text>
<text transform="translate(929.58,1326.35) scale(0.9888,1)" font-size="30.34" fill="#000080" stroke="#000080" stroke-width="0.3">d</text>
<text transform="translate(960.4,1355.36) scale(1.0174,1)" font-size="28.86" fill="#000080" stroke="#000080" stroke-width="0.3">e</text>
<text transform="translate(1023.43,1092.73) scale(0.8288,1)" font-size="31.78" fill="#000080" stroke="#000080" stroke-width="0.3">a</text>
<text transform="translate(1057.57,1258.85) scale(0.9696,1)" font-size="29.8" fill="#000080" stroke="#000080" stroke-width="0.3">b</text>
<text transform="translate(1085.88,1282.26) scale(1.0396,1)" font-size="28.86" fill="#000080" stroke="#000080" stroke-width="0.3">c</text>
<text transform="translate(1117.78,1334.65) scale(0.9815,1)" font-size="30.34" fill="#000080" stroke="#000080" stroke-width="0.3">d</text>
<text transform="translate(1150.17,1326.85) scale(0.9844,1)" font-size="30.48" fill="#000080" stroke="#000080" stroke-width="0.3">d</text>
<text transform="translate(1213.61,1040.39) scale(0.8052,1)" font-size="36.35" fill="#000080" stroke="#000080" stroke-width="0.3">a</text>
<text transform="translate(1249.31,1325.45) scale(0.9815,1)" font-size="30.34" fill="#000080" stroke="#000080" stroke-width="0.3">b</text>
<text transform="translate(1278.46,1320.55) scale(0.9726,1)" font-size="29.93" fill="#000080" stroke="#000080" stroke-width="0.3">b</text>
<text transform="translate(1310.8,1325.84) scale(0.9714,1)" font-size="30.88" fill="#000080" stroke="#000080" stroke-width="0.3">b</text>
<text transform="translate(1343.92,1355.36) scale(1.0879,1)" font-size="28.86" fill="#000080" stroke="#000080" stroke-width="0.3">c</text>
</g>
</svg>
</body></html>
